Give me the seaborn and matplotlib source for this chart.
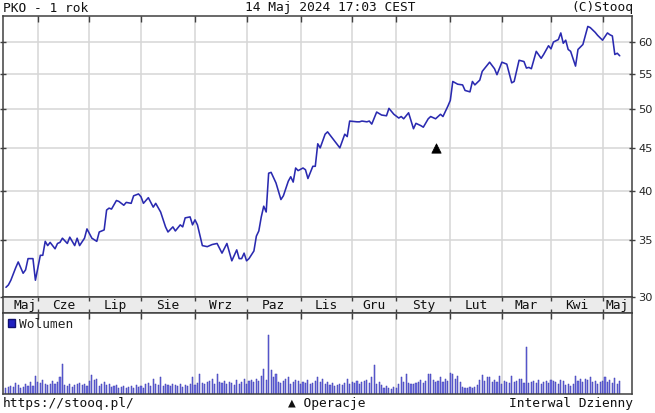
import numpy as np
import pandas as pd
import seaborn as sns
import matplotlib
matplotlib.use('Agg')
import matplotlib.pyplot as plt
from matplotlib.patches import Patch
from matplotlib.ticker import FixedLocator, NullLocator

# trading calendar (GPW), one session per bar
holidays = ['2023-06-08', '2023-08-15', '2023-11-01', '2023-12-25', '2023-12-26',
            '2023-12-29', '2024-01-01', '2024-03-29', '2024-04-01', '2024-05-01',
            '2024-05-03']
month_names = ['Maj', 'Cze', 'Lip', 'Sie', 'Wrz', 'Paz', 'Lis', 'Gru',
               'Sty', 'Lut', 'Mar', 'Kwi', 'Maj']

# closing price (session number, PLN)
price_session = [0, 1, 2, 4, 5, 7, 8, 9, 11, 12, 14, 15, 16, 17, 18, 20, 21, 22, 23, 25,
                 26, 28, 29, 30, 32, 33, 35, 37, 38, 40, 41, 42, 43, 45, 46, 48, 49, 51, 52, 54,
                 55, 56, 58, 60, 61, 63, 65, 66, 68, 69, 71, 72, 73, 75, 76, 77, 78, 80, 82, 84,
                 86, 88, 90, 92, 94, 95, 96, 97, 98, 99, 101, 102, 103, 104, 105, 106, 107, 108, 110, 112,
                 113, 115, 116, 117, 118, 119, 121, 122, 123, 125, 126, 127, 128, 130, 131, 134, 136, 138, 139, 140,
                 143, 144, 145, 147, 148, 149, 151, 153, 155, 156, 158, 160, 161, 162, 164, 166, 167, 169, 170, 172,
                 173, 175, 176, 177, 178, 180, 181, 182, 184, 186, 187, 188, 189, 190, 191, 193, 194, 197, 199, 200,
                 202, 204, 205, 206, 207, 209, 211, 212, 213, 214, 216, 218, 219, 221, 222, 223, 225, 226, 227, 228,
                 229, 230, 232, 233, 235, 237, 238, 240, 241, 243, 245, 246, 247, 248, 249, 250]
price_close = [30.8, 31.0, 31.4, 32.5, 33.0, 32.0, 32.3, 33.3, 33.3, 31.4, 33.6, 33.6, 34.9, 34.5, 34.8, 34.2, 34.7, 34.8, 35.2, 34.7,
               35.3, 34.5, 35.2, 34.5, 35.2, 36.1, 35.2, 34.9, 35.8, 36.0, 38.0, 38.2, 38.1, 39.0, 38.9, 38.5, 38.8, 38.7, 39.5, 39.7,
               39.4, 38.7, 39.3, 38.3, 38.7, 37.8, 36.3, 35.8, 36.3, 35.9, 36.5, 36.3, 37.2, 37.3, 36.5, 37.0, 36.5, 34.5, 34.4, 34.6,
               34.7, 33.8, 34.7, 33.1, 34.1, 33.3, 33.3, 33.8, 33.1, 33.3, 34.0, 35.4, 35.9, 37.3, 38.4, 37.8, 42.0, 42.1, 40.9, 39.1,
               39.5, 41.1, 41.6, 41.0, 42.6, 42.3, 42.6, 42.4, 41.4, 42.8, 42.8, 45.5, 45.0, 46.7, 47.0, 45.8, 45.0, 46.7, 46.4, 48.4,
               48.3, 48.3, 48.4, 48.3, 48.4, 48.0, 49.6, 49.2, 49.1, 50.1, 49.3, 48.8, 49.0, 48.7, 49.5, 47.4, 48.1, 47.8, 47.6, 48.7,
               49.0, 48.7, 49.0, 49.3, 49.0, 50.4, 51.2, 53.9, 53.5, 53.4, 52.6, 52.5, 52.4, 53.9, 53.4, 54.1, 55.4, 56.8, 55.8, 54.9,
               56.8, 56.5, 55.1, 53.7, 53.9, 57.1, 56.9, 55.9, 56.0, 55.8, 58.5, 57.4, 58.0, 59.4, 58.9, 60.0, 60.4, 61.5, 59.8, 60.3,
               58.8, 58.5, 56.2, 58.8, 59.6, 62.6, 62.4, 61.6, 61.1, 60.3, 61.5, 61.2, 61.0, 58.0, 58.2, 57.8]

# daily volume, mln shares (one value per session 0..250)
volume = [1.5, 1.8, 2.0, 1.8, 2.8, 2.2, 1.5, 1.8, 2.5, 2.0,
          3.0, 2.0, 4.5, 3.0, 2.8, 3.5, 2.5, 2.2, 2.5, 3.2,
          2.5, 3.0, 4.2, 7.5, 2.2, 2.0, 2.5, 1.8, 2.2, 2.5,
          2.8, 2.2, 2.5, 2.0, 3.2, 4.8, 3.5, 3.8, 2.0, 2.5,
          3.0, 2.2, 2.5, 1.8, 2.0, 2.2, 1.5, 1.8, 2.0, 1.5,
          1.8, 2.0, 1.5, 2.2, 1.8, 2.0, 1.5, 2.5, 2.8, 2.0,
          3.8, 2.5, 2.2, 4.2, 2.0, 2.5, 2.2, 2.0, 2.5, 2.2,
          2.0, 2.5, 1.8, 2.2, 2.0, 2.5, 4.2, 2.2, 2.8, 5.0,
          2.8, 2.5, 3.0, 3.2, 3.8, 2.5, 5.0, 3.0, 2.8, 3.2,
          2.5, 3.0, 2.8, 2.2, 3.5, 2.5, 3.0, 3.8, 2.5, 3.2,
          3.5, 3.0, 3.8, 3.2, 4.5, 6.2, 3.5, 14.5, 6.0, 4.2,
          5.0, 3.0, 2.8, 3.2, 3.8, 4.2, 2.5, 3.0, 3.5, 3.2,
          2.5, 3.0, 2.8, 3.5, 2.5, 2.8, 3.2, 4.2, 3.0, 3.8,
          2.5, 3.0, 2.2, 2.8, 2.0, 2.2, 2.5, 2.2, 2.8, 3.8,
          2.5, 3.0, 2.8, 3.2, 2.5, 3.0, 3.2, 3.5, 2.8, 4.2,
          7.2, 2.5, 3.0, 2.2, 1.5, 2.0, 1.5, 1.2, 1.8, 1.5,
          2.5, 4.2, 3.0, 5.0, 2.8, 2.5, 2.5, 2.8, 3.0, 3.5,
          2.8, 3.2, 5.0, 5.0, 3.5, 3.0, 3.2, 4.2, 3.0, 3.8,
          3.2, 5.2, 5.0, 3.8, 4.5, 3.0, 1.8, 1.5, 1.5, 1.8,
          1.5, 1.8, 2.2, 3.5, 4.8, 3.2, 4.2, 4.2, 3.0, 3.5,
          3.0, 4.5, 2.5, 3.2, 3.0, 2.8, 4.5, 3.0, 3.2, 3.8,
          3.8, 2.8, 11.5, 2.8, 3.0, 3.2, 2.8, 3.5, 2.5, 3.0,
          3.2, 2.8, 3.5, 3.2, 3.0, 2.5, 3.5, 3.2, 2.2, 2.5,
          2.0, 2.5, 4.5, 3.2, 3.8, 3.0, 3.8, 3.5, 4.2, 3.0,
          3.2, 2.5, 3.0, 3.2, 4.2, 3.0, 3.5, 2.8, 4.0, 2.5,
          3.2]

# corporate action marker ("Operacje")
op_session = [175]
op_level = [45.0]

y_ticks = [30, 35, 40, 45, 50, 55, 60]


def session_calendar():
    days = pd.bdate_range('2023-05-15', '2024-05-14')
    days = days[~days.isin(pd.to_datetime(holidays))]
    month_start = [i for i in range(1, len(days)) if days[i].month != days[i - 1].month]
    return days, month_start


days, month_start = session_calendar()
x_min, x_max = -1.2, 255.0

sns.set_style('white')
plt.rcParams['font.family'] = ['DejaVu Sans Mono', 'DejaVu Sans']

W, H = 655, 413
fig = plt.figure(figsize=(W / 100, H / 100), dpi=100)


def frac(left, top, right, bottom):
    return [left / W, 1 - bottom / H, (right - left) / W, (bottom - top) / H]


border = '#404040'
grid_c = '#d6d6d6'
line_c = '#2a2ab0'

# price panel
ax = fig.add_axes(frac(3, 16, 632, 297))
sns.lineplot(x=price_session, y=price_close, ax=ax, color=line_c, linewidth=1.15)
sns.scatterplot(x=op_session, y=op_level, ax=ax, marker='^', color='black', s=45,
                edgecolor='black', zorder=5)
ax.set_yscale('log')
ax.set_ylim(30, 64.4)
ax.set_xlim(x_min, x_max)
ax.yaxis.set_major_locator(FixedLocator(y_ticks))
ax.yaxis.set_minor_locator(NullLocator())
ax.set_yticklabels([str(v) for v in y_ticks], family='DejaVu Sans', fontsize=8.2)
ax.xaxis.set_major_locator(FixedLocator(month_start))
ax.set_xticklabels([])
for v in y_ticks[1:]:
    ax.axhline(v, color=grid_c, lw=1.1, zorder=0)
for m in month_start:
    ax.axvline(m, color=grid_c, lw=1.1, zorder=0)
ax.tick_params(axis='y', which='major', left=True, right=True, labelleft=False,
               labelright=True, direction='inout', length=5, width=1, color=border, pad=2)
ax.tick_params(axis='x', top=True, bottom=False, direction='in', length=4, width=1, color=border)
ax.set_xlabel('')
ax.set_ylabel('')
for sp in ax.spines.values():
    sp.set_color(border)
    sp.set_linewidth(1.1)

# month strip
strip = fig.add_axes(frac(3, 297, 632, 313))
strip.set_facecolor('#ebebeb')
strip.set_xlim(x_min, x_max)
strip.set_ylim(0, 1)
strip.set_yticks([])
strip.xaxis.set_major_locator(FixedLocator(month_start))
strip.set_xticklabels([])
strip.tick_params(axis='x', top=True, bottom=True, direction='in', length=3, width=1, color=border)
edges = [x_min + 3.5] + month_start + [x_max]
for name, a, b in zip(month_names, edges[:-1], edges[1:]):
    strip.text((a + b) / 2, 0.45, name, ha='center', va='center', fontsize=9.3, color='#111111')
for sp in strip.spines.values():
    sp.set_color(border)
    sp.set_linewidth(1.1)

# volume panel
vax = fig.add_axes(frac(3, 313, 632, 394))
vax.bar(np.arange(len(volume)), volume, width=0.45, color='#7272e4', edgecolor='#3838b0',
        linewidth=0.35, zorder=2)
vax.set_xlim(x_min, x_max)
vax.set_ylim(0, 20)
vax.set_yticks([])
vax.xaxis.set_major_locator(FixedLocator(month_start))
vax.set_xticklabels([])
for m in month_start:
    vax.axvline(m, color=grid_c, lw=1.1, zorder=0)
vax.tick_params(axis='x', top=True, bottom=False, direction='in', length=4, width=1, color=border)
vax.legend(handles=[Patch(facecolor='#2020c0', edgecolor='#101070', label='Wolumen')],
           loc='upper left', frameon=False, fontsize=9.3, handlelength=0.6, handleheight=0.6,
           handletextpad=0.3, borderaxespad=0.15, borderpad=0.2)
for sp in vax.spines.values():
    sp.set_color(border)
    sp.set_linewidth(1.1)

# header and footer texts
txt = dict(fontsize=9.3, color='#111111', va='center')
fig.text(3 / W, 1 - 8 / H, 'PKO - 1 rok', ha='left', **txt)
fig.text(330 / W, 1 - 8 / H, '14 Maj 2024 17:03 CEST', ha='center', **txt)
fig.text(633 / W, 1 - 8 / H, '(C)Stooq', ha='right', **txt)
fig.text(3 / W, 1 - 404 / H, 'https://stooq.pl/', ha='left', **txt)
fig.text(327 / W, 1 - 404 / H, '\u25b2 Operacje', ha='center', **txt)
fig.text(633 / W, 1 - 404 / H, 'Interwal Dzienny', ha='right', **txt)

fig.savefig('out.png', dpi=100, facecolor='white')
